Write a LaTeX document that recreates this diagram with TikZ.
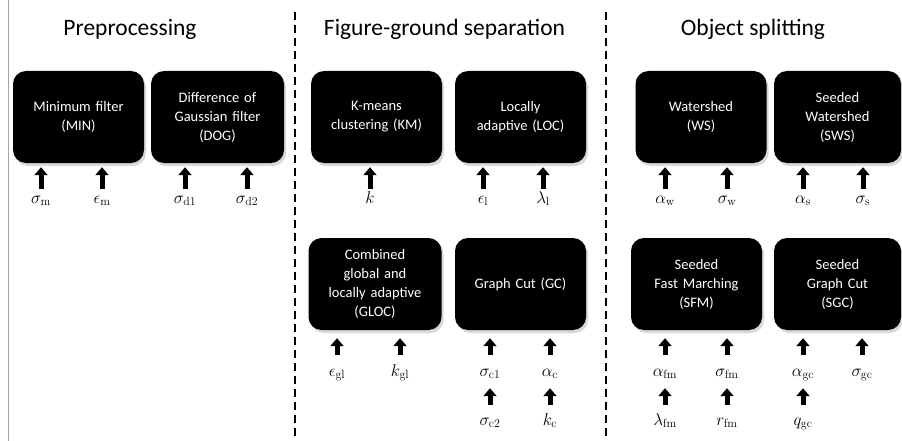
\documentclass[tikz,border=0pt]{standalone}
\usepackage{fix-cm}
\usepackage{amsmath}
\usepackage{fontspec}
\newfontfamily\boxfont{Carlito}
\usetikzlibrary{arrows.meta,shadows}

\begin{document}
\begin{tikzpicture}[x=1pt,y=-1pt,
    method/.style={fill=black,rounded corners=13pt,minimum width=131pt,minimum height=92pt,
        text width=127pt,align=center,text=white,inner sep=0pt,
        font=\boxfont\fontsize{14.5}{19}\selectfont,
        drop shadow={shadow xshift=2pt,shadow yshift=-3pt,opacity=0.3}},
    stage/.style={anchor=base,font=\boxfont\fontsize{23.5}{27}\selectfont},
    param/.style={anchor=base,inner sep=0pt,text height=8pt,text depth=3pt,font=\fontsize{17}{20}\selectfont},
    par/.style={-{Triangle[length=8pt,width=13pt]},line width=5pt,shorten <=6pt,shorten >=4pt},
    partwo/.style={-{Triangle[length=8pt,width=13pt]},line width=5pt,shorten <=13pt,shorten >=8pt},
    parlow/.style={-{Triangle[length=8pt,width=13pt]},line width=5pt,shorten <=12pt,shorten >=9pt}]

    \useasboundingbox (0,0) rectangle (902,441);

    \draw[black!35,line width=1.5pt] (8.5,0) -- (8.5,441);
    \draw[line width=2.5pt,dash pattern=on 8pt off 5pt] (295,12) -- (295,441);
    \draw[line width=2.5pt,dash pattern=on 8pt off 5pt] (606,12) -- (606,441);

    \node[stage] (pre) at (130,36) {Preprocessing};
    \node[stage] (fg) at (444.5,36) {Figure-ground separation};
    \node[stage] (os) at (753,36) {Object splitting};

    \node[method] (MIN) at (78.5,117) {Minimum filter\\(MIN)};
    \node[method,minimum width=133pt] (DOG) at (217.5,117) {Difference of\\Gaussian filter\\(DOG)};
    \node[method] (KM) at (376.5,117) {K-means\\clustering (KM)};
    \node[method] (LOC) at (520.5,117) {Locally\\adaptive (LOC)};
    \node[method,minimum width=133pt] (GLOC) at (375,284) {Combined\\global and\\locally adaptive\\(GLOC)};
    \node[method] (GC) at (520.5,284) {Graph Cut (GC)};
    \node[method] (WS) at (701,117) {Watershed\\(WS)};
    \node[method,minimum width=126pt] (SWS) at (837.5,117) {Seeded\\Watershed\\(SWS)};
    \node[method] (SFM) at (696.5,284) {Seeded\\Fast Marching\\(SFM)};
    \node[method,minimum width=126pt] (SGC) at (837.5,284) {Seeded\\Graph Cut\\(SGC)};

    \node[param] (sm) at (41,203) {$\sigma_{\mathrm{m}}$};
    \node[param] (em) at (102,203) {$\epsilon_{\mathrm{m}}$};
    \node[param] (sdone) at (185,203) {$\sigma_{\mathrm{d1}}$};
    \node[param] (sdtwo) at (247,203) {$\sigma_{\mathrm{d2}}$};
    \node[param] (k) at (370,203) {$k$};
    \node[param] (el) at (483,203) {$\epsilon_{\mathrm{l}}$};
    \node[param] (ll) at (543,203) {$\lambda_{\mathrm{l}}$};
    \node[param] (aw) at (665,203) {$\alpha_{\mathrm{w}}$};
    \node[param] (sw) at (727,203) {$\sigma_{\mathrm{w}}$};
    \node[param] (as) at (803,203) {$\alpha_{\mathrm{s}}$};
    \node[param] (ss) at (863,203) {$\sigma_{\mathrm{s}}$};

    \node[param] (egl) at (337,376) {$\epsilon_{\mathrm{gl}}$};
    \node[param] (kgl) at (400,376) {$k_{\mathrm{gl}}$};
    \node[param] (scone) at (490,376) {$\sigma_{\mathrm{c1}}$};
    \node[param] (ac) at (550,376) {$\alpha_{\mathrm{c}}$};
    \node[param] (sctwo) at (490,425) {$\sigma_{\mathrm{c2}}$};
    \node[param] (kc) at (550,425) {$k_{\mathrm{c}}$};
    \node[param] (afm) at (665,376) {$\alpha_{\mathrm{fm}}$};
    \node[param] (sfm) at (727,376) {$\sigma_{\mathrm{fm}}$};
    \node[param] (lfm) at (665,425) {$\lambda_{\mathrm{fm}}$};
    \node[param] (rfm) at (727,425) {$r_{\mathrm{fm}}$};
    \node[param] (agc) at (803,376) {$\alpha_{\mathrm{gc}}$};
    \node[param] (sgc) at (862,376) {$\sigma_{\mathrm{gc}}$};
    \node[param] (qgc) at (803,425) {$q_{\mathrm{gc}}$};

    \draw[par] (sm) -- (sm |- MIN.south);
    \draw[par] (em) -- (em |- MIN.south);
    \draw[par] (sdone) -- (sdone |- DOG.south);
    \draw[par] (sdtwo) -- (sdtwo |- DOG.south);
    \draw[par] (k) -- (k |- KM.south);
    \draw[par] (el) -- (el |- LOC.south);
    \draw[par] (ll) -- (ll |- LOC.south);
    \draw[par] (aw) -- (aw |- WS.south);
    \draw[par] (sw) -- (sw |- WS.south);
    \draw[par] (as) -- (as |- SWS.south);
    \draw[par] (ss) -- (ss |- SWS.south);

    \draw[partwo] (egl) -- (egl |- GLOC.south);
    \draw[partwo] (kgl) -- (kgl |- GLOC.south);
    \draw[partwo] (scone) -- (scone |- GC.south);
    \draw[partwo] (ac) -- (ac |- GC.south);
    \draw[partwo] (afm) -- (afm |- SFM.south);
    \draw[partwo] (sfm) -- (sfm |- SFM.south);
    \draw[partwo] (agc) -- (agc |- SGC.south);
    \draw[partwo] (sgc) -- (sgc |- SGC.south);

    \draw[parlow] (sctwo) -- (scone);
    \draw[parlow] (kc) -- (ac);
    \draw[parlow] (lfm) -- (afm);
    \draw[parlow] (rfm) -- (sfm);
    \draw[parlow] (qgc) -- (agc);
\end{tikzpicture}
\end{document}
